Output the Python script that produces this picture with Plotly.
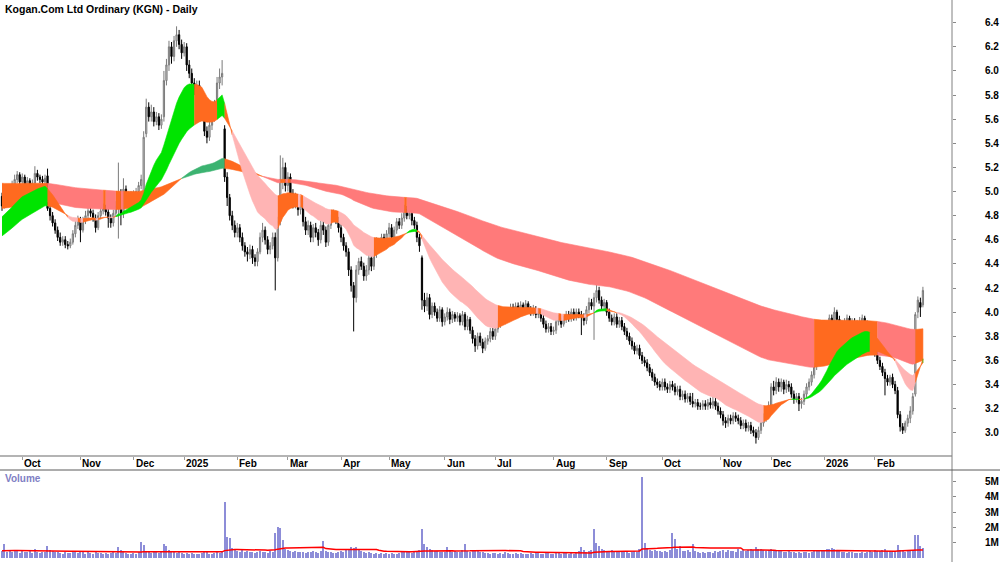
import pandas as pd
import plotly.graph_objects as go

# ---------------- data ----------------
START_DATE = "2024-09-19"
END_DATE = "2026-02-27"
ASX_HOLIDAYS = ["2024-12-25", "2024-12-26", "2025-01-01", "2025-01-27", "2025-04-18",
                "2025-04-21", "2025-04-25", "2025-06-09", "2025-12-25", "2025-12-26",
                "2026-01-01", "2026-01-26"]

closes = [
    4.88, 4.97, 5.02, 5.00, 5.06, 5.10, 5.14, 5.08, 5.12, 5.05,
    5.09, 5.03, 5.07, 5.15, 5.12, 5.10, 5.08, 5.11, 4.86, 4.80,
    4.74, 4.68, 4.62, 4.58, 4.60, 4.56, 4.55, 4.58, 4.65, 4.72,
    4.77, 4.68, 4.76, 4.80, 4.84, 4.82, 4.78, 4.70, 4.80, 4.84,
    4.86, 4.83, 4.78, 4.74, 4.82, 4.88, 4.98, 4.82, 5.02, 4.93,
    4.97, 4.94, 4.98, 5.00, 5.05, 5.10, 5.45, 5.70, 5.62, 5.66,
    5.58, 5.62, 5.55, 5.60, 5.92, 6.05, 6.20, 6.12, 6.25, 6.30,
    6.22, 6.15, 6.20, 6.05, 5.98, 5.90, 5.85, 5.88, 5.80, 5.75,
    5.50, 5.45, 5.55, 5.62, 5.72, 5.90, 5.95, 5.98, 5.12, 4.95,
    4.80, 4.72, 4.66, 4.70, 4.62, 4.55, 4.50, 4.48, 4.52, 4.45,
    4.42, 4.50, 4.62, 4.68, 4.60, 4.52, 4.55, 4.62, 4.45, 4.75,
    5.10, 5.20, 5.05, 5.12, 4.98, 4.90, 4.95, 4.85, 4.92, 4.75,
    4.68, 4.72, 4.62, 4.70, 4.66, 4.60, 4.72, 4.68, 4.58, 4.72,
    4.78, 4.82, 4.76, 4.70, 4.62, 4.55, 4.50, 4.35, 4.22, 4.12,
    4.35, 4.42, 4.38, 4.30, 4.35, 4.45, 4.38, 4.48, 4.58, 4.55,
    4.62, 4.58, 4.65, 4.70, 4.62, 4.68, 4.75, 4.72, 4.78, 4.85,
    4.80, 4.82, 4.76, 4.72, 4.62, 4.55, 4.10, 4.05, 4.12, 3.98,
    4.05, 4.00, 3.95, 4.02, 3.92, 3.96, 4.00, 3.94, 3.98, 3.95,
    3.97, 3.92, 3.98, 3.88, 3.94, 3.85, 3.78, 3.72, 3.80, 3.75,
    3.70, 3.76, 3.78, 3.84, 3.80, 3.86, 3.90, 3.96, 3.93, 4.00,
    3.98, 4.04, 4.02, 4.05, 4.00, 4.06, 4.03, 4.07, 4.02, 4.00,
    4.03, 3.98, 4.00, 3.95, 3.90, 3.86, 3.88, 3.84, 3.85, 3.92,
    3.95, 3.90, 3.94, 3.98, 3.95, 4.00, 3.96, 4.00, 3.98, 3.96,
    3.93, 4.02, 4.08, 4.05, 4.12, 4.18, 4.10, 4.05, 4.08, 4.00,
    3.95, 3.92, 3.96, 3.90, 3.93, 3.88, 3.84, 3.80, 3.76, 3.72,
    3.68, 3.70, 3.64, 3.60, 3.58, 3.54, 3.50, 3.46, 3.42, 3.40,
    3.38, 3.42, 3.38, 3.36, 3.40, 3.38, 3.34, 3.36, 3.30, 3.32,
    3.28, 3.30, 3.26, 3.24, 3.25, 3.22, 3.22, 3.24, 3.22, 3.25,
    3.23, 3.26, 3.22, 3.18, 3.15, 3.10, 3.08, 3.12, 3.10, 3.14,
    3.12, 3.10, 3.06, 3.08, 3.04, 3.06, 3.02, 3.00, 2.96, 3.02,
    3.08, 3.12, 3.18, 3.22, 3.38, 3.35, 3.42, 3.38, 3.42, 3.36,
    3.40, 3.38, 3.32, 3.28, 3.30, 3.24, 3.26, 3.32, 3.38, 3.42,
    3.48, 3.55, 3.60, 3.66, 3.70, 3.78, 3.88, 3.95, 3.92, 4.00,
    3.94, 3.90, 3.88, 3.92, 3.95, 3.88, 3.92, 3.90, 3.86, 3.92,
    3.95, 3.90, 3.84, 3.78, 3.72, 3.66, 3.60, 3.55, 3.50, 3.45,
    3.42, 3.46, 3.40, 3.35, 3.15, 3.05, 3.02, 3.08, 3.12, 3.18,
    3.30, 3.98, 4.10, 4.04, 4.18,
]

opens = [
    4.96, 4.88, 4.97, 5.02, 5.00, 5.06, 5.10, 5.14, 5.08, 5.12,
    5.05, 5.09, 5.03, 5.07, 5.15, 5.12, 5.10, 5.08, 5.13, 4.86,
    4.80, 4.74, 4.68, 4.62, 4.58, 4.60, 4.56, 4.55, 4.58, 4.65,
    4.72, 4.77, 4.68, 4.76, 4.80, 4.84, 4.82, 4.78, 4.70, 4.80,
    4.84, 4.86, 4.83, 4.78, 4.74, 4.82, 4.88, 4.98, 4.82, 5.02,
    4.93, 4.97, 4.94, 4.98, 5.00, 5.05, 4.98, 5.48, 5.70, 5.62,
    5.66, 5.58, 5.62, 5.55, 5.62, 5.92, 6.05, 6.20, 6.12, 6.25,
    6.30, 6.22, 6.15, 6.20, 6.05, 5.98, 5.90, 5.85, 5.88, 5.80,
    5.75, 5.50, 5.45, 5.55, 5.62, 5.72, 5.90, 5.95, 5.52, 5.12,
    4.95, 4.80, 4.72, 4.66, 4.70, 4.62, 4.55, 4.50, 4.48, 4.52,
    4.45, 4.42, 4.50, 4.62, 4.68, 4.60, 4.52, 4.55, 4.62, 4.45,
    4.75, 5.10, 5.20, 5.05, 5.12, 4.98, 4.90, 4.95, 4.85, 4.92,
    4.75, 4.68, 4.72, 4.62, 4.70, 4.66, 4.60, 4.72, 4.68, 4.58,
    4.72, 4.78, 4.82, 4.76, 4.70, 4.62, 4.55, 4.50, 4.35, 4.22,
    4.12, 4.35, 4.42, 4.38, 4.30, 4.35, 4.45, 4.38, 4.48, 4.58,
    4.55, 4.62, 4.58, 4.65, 4.70, 4.62, 4.68, 4.75, 4.72, 4.78,
    4.85, 4.80, 4.82, 4.76, 4.72, 4.62, 4.45, 4.10, 4.05, 4.12,
    3.98, 4.05, 4.00, 3.95, 4.02, 3.92, 3.96, 4.00, 3.94, 3.98,
    3.95, 3.97, 3.92, 3.98, 3.88, 3.94, 3.85, 3.78, 3.72, 3.80,
    3.75, 3.70, 3.76, 3.78, 3.84, 3.80, 3.86, 3.90, 3.96, 3.93,
    4.00, 3.98, 4.04, 4.02, 4.05, 4.00, 4.06, 4.03, 4.07, 4.02,
    4.00, 4.03, 3.98, 4.00, 3.95, 3.90, 3.86, 3.88, 3.84, 3.85,
    3.92, 3.95, 3.90, 3.94, 3.98, 3.95, 4.00, 3.96, 4.00, 3.98,
    3.96, 3.93, 4.02, 4.08, 4.05, 4.12, 4.18, 4.10, 4.05, 4.08,
    4.00, 3.95, 3.92, 3.96, 3.90, 3.93, 3.88, 3.84, 3.80, 3.76,
    3.72, 3.68, 3.70, 3.64, 3.60, 3.58, 3.54, 3.50, 3.46, 3.42,
    3.40, 3.38, 3.42, 3.38, 3.36, 3.40, 3.38, 3.34, 3.36, 3.30,
    3.32, 3.28, 3.30, 3.26, 3.24, 3.25, 3.22, 3.22, 3.24, 3.22,
    3.25, 3.23, 3.26, 3.22, 3.18, 3.15, 3.10, 3.08, 3.12, 3.10,
    3.14, 3.12, 3.10, 3.06, 3.08, 3.04, 3.06, 3.02, 3.00, 2.96,
    3.02, 3.08, 3.12, 3.18, 3.22, 3.38, 3.35, 3.42, 3.38, 3.42,
    3.36, 3.40, 3.38, 3.32, 3.28, 3.30, 3.24, 3.26, 3.32, 3.38,
    3.42, 3.48, 3.55, 3.60, 3.66, 3.70, 3.78, 3.88, 3.95, 3.92,
    4.00, 3.94, 3.90, 3.88, 3.92, 3.95, 3.88, 3.92, 3.90, 3.86,
    3.92, 3.95, 3.90, 3.84, 3.78, 3.72, 3.66, 3.60, 3.55, 3.50,
    3.45, 3.42, 3.46, 3.40, 3.35, 3.15, 3.05, 3.02, 3.08, 3.12,
    3.18, 3.32, 4.00, 4.08, 4.06,
]

highs = [
    4.99, 5.00, 5.06, 5.05, 5.09, 5.14, 5.17, 5.16, 5.15, 5.14,
    5.12, 5.11, 5.10, 5.21, 5.18, 5.14, 5.13, 5.14, 5.19, 4.88,
    4.83, 4.77, 4.71, 4.66, 4.63, 4.63, 4.59, 4.61, 4.68, 4.76,
    4.80, 4.79, 4.79, 4.84, 4.87, 4.87, 4.85, 4.81, 4.83, 4.87,
    4.90, 4.89, 4.86, 4.81, 4.85, 4.92, 5.24, 5.02, 5.11, 5.05,
    5.00, 5.00, 5.01, 5.03, 5.08, 5.14, 5.50, 5.77, 5.74, 5.72,
    5.70, 5.66, 5.65, 5.64, 6.00, 6.10, 6.25, 6.24, 6.29, 6.37,
    6.34, 6.26, 6.24, 6.23, 6.09, 6.02, 5.94, 5.92, 5.92, 5.84,
    5.78, 5.54, 5.58, 5.66, 5.76, 5.95, 6.02, 6.09, 5.55, 5.16,
    4.98, 4.84, 4.76, 4.74, 4.73, 4.66, 4.58, 4.54, 4.56, 4.55,
    4.48, 4.53, 4.66, 4.74, 4.71, 4.63, 4.58, 4.66, 4.66, 4.79,
    5.30, 5.28, 5.24, 5.16, 5.15, 5.02, 4.99, 4.98, 4.96, 4.95,
    4.79, 4.76, 4.75, 4.73, 4.74, 4.69, 4.76, 4.76, 4.71, 4.75,
    4.81, 4.85, 4.84, 4.79, 4.73, 4.65, 4.58, 4.53, 4.38, 4.25,
    4.39, 4.45, 4.46, 4.41, 4.39, 4.48, 4.48, 4.52, 4.62, 4.61,
    4.65, 4.65, 4.68, 4.74, 4.73, 4.71, 4.78, 4.78, 4.82, 4.89,
    4.88, 4.85, 4.84, 4.79, 4.75, 4.65, 4.47, 4.16, 4.16, 4.15,
    4.08, 4.08, 4.03, 4.05, 4.04, 3.99, 4.04, 4.03, 4.01, 4.00,
    4.00, 3.99, 4.01, 4.00, 3.97, 3.96, 3.88, 3.81, 3.83, 3.83,
    3.78, 3.79, 3.81, 3.87, 3.87, 3.89, 3.93, 3.99, 3.99, 4.03,
    4.03, 4.07, 4.07, 4.08, 4.08, 4.09, 4.08, 4.10, 4.09, 4.05,
    4.06, 4.05, 4.03, 4.02, 3.98, 3.93, 3.91, 3.91, 3.88, 3.95,
    3.98, 3.98, 3.97, 4.01, 4.01, 4.03, 4.03, 4.03, 4.03, 4.01,
    3.99, 4.05, 4.12, 4.11, 4.16, 4.29, 4.21, 4.13, 4.11, 4.10,
    4.03, 3.98, 3.99, 3.99, 3.96, 3.96, 3.91, 3.87, 3.83, 3.79,
    3.75, 3.73, 3.73, 3.67, 3.63, 3.61, 3.57, 3.53, 3.49, 3.45,
    3.43, 3.45, 3.45, 3.41, 3.43, 3.43, 3.41, 3.39, 3.39, 3.35,
    3.35, 3.33, 3.33, 3.33, 3.28, 3.28, 3.25, 3.27, 3.27, 3.28,
    3.29, 3.33, 3.29, 3.25, 3.21, 3.18, 3.13, 3.15, 3.15, 3.17,
    3.17, 3.15, 3.13, 3.11, 3.11, 3.09, 3.09, 3.05, 3.03, 3.05,
    3.11, 3.16, 3.21, 3.26, 3.41, 3.43, 3.46, 3.45, 3.45, 3.44,
    3.44, 3.43, 3.41, 3.35, 3.33, 3.33, 3.29, 3.35, 3.41, 3.45,
    3.51, 3.58, 3.63, 3.69, 3.74, 3.82, 3.91, 3.98, 3.98, 4.04,
    4.02, 3.97, 3.93, 3.95, 3.98, 3.97, 3.95, 3.95, 3.93, 3.96,
    3.98, 3.97, 3.93, 3.87, 3.81, 3.75, 3.69, 3.63, 3.58, 3.53,
    3.48, 3.48, 3.49, 3.43, 3.38, 3.18, 3.08, 3.10, 3.15, 3.22,
    3.33, 4.00, 4.13, 4.12, 4.21,
]

lows = [
    4.84, 4.86, 4.94, 4.97, 4.98, 5.03, 5.07, 5.05, 5.05, 5.02,
    5.02, 5.00, 5.01, 5.05, 5.09, 5.07, 5.05, 5.06, 4.84, 4.76,
    4.71, 4.65, 4.59, 4.55, 4.55, 4.53, 4.52, 4.53, 4.56, 4.62,
    4.69, 4.58, 4.66, 4.73, 4.77, 4.79, 4.75, 4.66, 4.68, 4.77,
    4.81, 4.80, 4.70, 4.70, 4.71, 4.79, 4.61, 4.72, 4.78, 4.90,
    4.90, 4.91, 4.91, 4.95, 4.97, 5.02, 4.94, 5.45, 5.58, 5.58,
    5.54, 5.55, 5.51, 5.52, 5.58, 5.88, 6.00, 6.06, 6.08, 6.20,
    6.18, 6.10, 6.12, 6.00, 5.94, 5.86, 5.80, 5.81, 5.76, 5.70,
    5.46, 5.40, 5.42, 5.51, 5.58, 5.68, 5.85, 5.88, 5.08, 4.88,
    4.76, 4.68, 4.62, 4.62, 4.58, 4.51, 4.46, 4.42, 4.44, 4.40,
    4.38, 4.38, 4.48, 4.58, 4.56, 4.48, 4.48, 4.52, 4.18, 4.42,
    4.72, 5.02, 5.00, 5.00, 4.94, 4.86, 4.86, 4.80, 4.81, 4.71,
    4.64, 4.64, 4.58, 4.58, 4.62, 4.55, 4.57, 4.64, 4.54, 4.55,
    4.69, 4.75, 4.73, 4.66, 4.58, 4.51, 4.46, 4.30, 4.17, 3.84,
    4.08, 4.31, 4.35, 4.26, 4.26, 4.31, 4.34, 4.35, 4.45, 4.51,
    4.52, 4.55, 4.55, 4.62, 4.59, 4.59, 4.65, 4.69, 4.69, 4.75,
    4.77, 4.77, 4.72, 4.69, 4.58, 4.50, 4.02, 4.00, 4.01, 3.94,
    3.95, 3.97, 3.92, 3.92, 3.88, 3.89, 3.93, 3.90, 3.91, 3.92,
    3.92, 3.89, 3.89, 3.85, 3.85, 3.82, 3.74, 3.67, 3.69, 3.72,
    3.66, 3.68, 3.73, 3.75, 3.77, 3.77, 3.83, 3.87, 3.90, 3.90,
    3.95, 3.95, 3.99, 3.99, 3.97, 3.97, 4.00, 4.00, 3.99, 3.97,
    3.97, 3.95, 3.95, 3.92, 3.87, 3.83, 3.83, 3.81, 3.81, 3.82,
    3.89, 3.87, 3.88, 3.91, 3.92, 3.92, 3.93, 3.93, 3.95, 3.81,
    3.89, 3.90, 3.99, 4.02, 3.77, 4.08, 4.07, 4.01, 4.02, 3.97,
    3.92, 3.89, 3.89, 3.87, 3.87, 3.85, 3.81, 3.77, 3.73, 3.69,
    3.65, 3.65, 3.61, 3.57, 3.55, 3.51, 3.47, 3.43, 3.39, 3.37,
    3.35, 3.35, 3.35, 3.33, 3.33, 3.35, 3.31, 3.31, 3.27, 3.27,
    3.25, 3.25, 3.23, 3.21, 3.21, 3.19, 3.19, 3.19, 3.19, 3.19,
    3.20, 3.20, 3.19, 3.15, 3.12, 3.06, 3.04, 3.05, 3.07, 3.07,
    3.09, 3.07, 3.03, 3.03, 3.01, 3.01, 2.99, 2.97, 2.91, 2.94,
    2.99, 3.05, 3.09, 3.15, 3.20, 3.31, 3.32, 3.34, 3.34, 3.32,
    3.33, 3.34, 3.29, 3.24, 3.25, 3.18, 3.20, 3.23, 3.29, 3.35,
    3.39, 3.45, 3.52, 3.57, 3.62, 3.66, 3.74, 3.84, 3.88, 3.89,
    3.91, 3.86, 3.84, 3.85, 3.89, 3.84, 3.85, 3.87, 3.82, 3.83,
    3.89, 3.87, 3.81, 3.75, 3.69, 3.63, 3.57, 3.52, 3.47, 3.31,
    3.39, 3.39, 3.37, 3.32, 3.12, 3.01, 2.99, 3.00, 3.05, 3.08,
    3.15, 3.30, 3.95, 3.96, 4.04,
]

volumes_m = [
    0.45, 0.93, 0.40, 0.52, 0.38, 0.46, 0.50, 0.35, 0.55, 0.42,
    0.38, 0.48, 0.33, 0.58, 0.40, 0.36, 0.44, 0.39, 0.82, 0.55,
    0.47, 0.42, 0.38, 0.35, 0.30, 0.41, 0.33, 0.37, 0.45, 0.40,
    0.36, 0.50, 0.42, 0.31, 0.38, 0.34, 0.29, 0.40, 0.35, 0.32,
    0.28, 0.36, 0.30, 0.33, 0.41, 0.37, 0.74, 0.52, 0.48, 0.35,
    0.30, 0.26, 0.33, 0.29, 0.38, 1.08, 0.87, 0.45, 0.40, 0.36,
    0.42, 0.38, 0.33, 0.47, 0.95, 0.80, 0.52, 0.44, 0.39, 0.35,
    0.41, 0.36, 0.30, 0.34, 0.28, 0.32, 0.25, 0.30, 0.27, 0.33,
    0.45, 0.38, 0.31, 0.29, 0.35, 0.42, 0.37, 0.50, 3.69, 1.39,
    1.30, 0.65, 0.52, 0.48, 0.44, 0.55, 0.40, 0.47, 0.38, 0.42,
    0.36, 0.41, 0.50, 0.44, 0.39, 0.35, 0.45, 0.40, 1.65, 2.02,
    1.98, 1.20, 0.62, 0.55, 0.48, 0.42, 0.46, 0.38, 0.43, 0.40,
    0.35, 0.44, 0.39, 0.47, 0.41, 0.36, 0.50, 1.13, 0.45, 0.38,
    0.42, 0.36, 0.33, 0.40, 0.46, 0.38, 0.52, 0.60, 0.74, 0.68,
    0.74, 0.55, 0.48, 0.42, 0.37, 0.40, 0.34, 0.31, 0.36, 0.29,
    0.33, 0.30, 0.35, 0.28, 0.32, 0.26, 0.31, 0.36, 0.40, 0.45,
    0.38, 0.42, 0.35, 0.40, 0.48, 0.55, 1.90, 0.95, 0.75, 0.60,
    0.52, 0.45, 0.48, 0.40, 0.44, 0.38, 0.75, 0.47, 0.42, 0.50,
    0.44, 0.39, 0.52, 0.95, 0.48, 0.42, 0.55, 0.50, 0.46, 0.40,
    0.43, 0.37, 0.34, 0.30, 0.36, 0.33, 0.28, 0.35, 0.31, 0.38,
    0.34, 0.30, 0.27, 0.32, 0.29, 0.35, 0.31, 0.26, 0.30, 0.33,
    0.28, 0.32, 0.36, 0.30, 0.27, 0.34, 0.38, 0.31, 0.29, 0.35,
    0.32, 0.28, 0.33, 0.37, 0.30, 0.36, 0.29, 0.42, 0.50, 0.74,
    0.55, 0.40, 0.46, 0.52, 1.89, 0.97, 0.80, 0.62, 0.55, 0.48,
    0.45, 0.52, 0.40, 0.47, 0.43, 0.38, 0.45, 0.41, 0.36, 0.44,
    0.50, 0.42, 0.60, 5.30, 0.97, 0.66, 0.55, 0.48, 0.52, 0.45,
    0.50, 0.44, 0.47, 0.41, 0.55, 1.67, 1.26, 0.60, 0.82, 0.50,
    0.46, 0.52, 0.43, 0.93, 0.48, 0.40, 0.37, 0.44, 0.35, 0.39,
    0.42, 0.36, 0.45, 0.40, 0.48, 0.52, 0.44, 0.55, 0.47, 0.50,
    0.43, 0.58, 0.49, 0.52, 0.46, 0.55, 0.60, 0.52, 0.75, 0.58,
    0.62, 0.55, 0.48, 0.52, 0.58, 0.50, 0.45, 0.53, 0.47, 0.42,
    0.40, 0.46, 0.38, 0.43, 0.36, 0.41, 0.35, 0.39, 0.44, 0.37,
    0.42, 0.48, 0.52, 0.45, 0.55, 0.50, 0.58, 0.62, 0.66, 0.60,
    0.52, 0.47, 0.44, 0.40, 0.36, 0.42, 0.38, 0.33, 0.37, 0.35,
    0.40, 0.36, 0.44, 0.48, 0.42, 0.55, 0.50, 0.46, 0.52, 0.58,
    0.45, 0.50, 0.43, 0.48, 0.86, 0.55, 0.47, 0.42, 0.50, 0.46,
    0.52, 1.52, 1.52, 0.80, 0.70,
]

# moving-average ribbon settings and their values just before the first bar
SHORT_PERIODS = (18, 42)
SHORT_SEEDS = (4.78, 4.62)
LONG_PERIODS = (120, 250)
LONG_SEEDS = (4.86, 5.07)
VOL_MA_PERIOD = 40
VOL_MA_SEED = 0.50

price_ticks = [3.0, 3.2, 3.4, 3.6, 3.8, 4.0, 4.2, 4.4, 4.6, 4.8, 5.0, 5.2, 5.4, 5.6, 5.8, 6.0, 6.2, 6.4]
vol_ticks = [1, 2, 3, 4, 5]
vol_tick_text = ["1M", "2M", "3M", "4M", "5M"]

# ---------------- derived ----------------
n = min(len(closes), len(opens), len(highs), len(lows), len(volumes_m))
dates = pd.bdate_range(START_DATE, END_DATE)
dates = dates[~dates.isin(pd.to_datetime(ASX_HOLIDAYS))][:n]
idx = list(range(n))

month_idx, month_lab = [], []
for i in range(1, len(dates)):
    if dates[i].month != dates[i - 1].month:
        month_idx.append(i)
        month_lab.append(str(dates[i].year) if dates[i].month == 1 else dates[i].strftime("%b"))


def ema(values, period, seed):
    a = 2.0 / (period + 1)
    out, prev = [], seed
    for v in values:
        prev = prev + a * (v - prev)
        out.append(prev)
    return out


def classify(fast, slow):
    cls = []
    for i in range(len(fast)):
        j = max(i, 1)
        uf = fast[j] > fast[j - 1]
        us = slow[j] > slow[j - 1]
        if fast[i] > slow[i] and uf and us:
            cls.append("up")
        elif fast[i] < slow[i] and (not uf) and (not us):
            cls.append("down")
        else:
            cls.append("mixed")
    return cls


def ribbon(fast, slow, colors):
    cls = classify(fast, slow)
    traces = []
    start = 0
    m = len(fast)
    for i in range(1, m + 1):
        if i == m or cls[i] != cls[start]:
            end = min(i, m - 1)
            xs = list(range(start, end + 1))
            top = [fast[k] for k in xs]
            bot = [slow[k] for k in xs]
            col = colors[cls[start]]
            traces.append(go.Scatter(
                x=xs + xs[::-1], y=top + bot[::-1], mode="lines", fill="toself",
                fillcolor=col, line=dict(color=col, width=0.6),
                hoverinfo="skip", showlegend=False, xaxis="x", yaxis="y"))
            start = i
    return traces


s_fast = ema(closes[:n], SHORT_PERIODS[0], SHORT_SEEDS[0])
s_slow = ema(closes[:n], SHORT_PERIODS[1], SHORT_SEEDS[1])
l_fast = ema(closes[:n], LONG_PERIODS[0], LONG_SEEDS[0])
l_slow = ema(closes[:n], LONG_PERIODS[1], LONG_SEEDS[1])

vol_ma = []
for i in range(n):
    lo = i - VOL_MA_PERIOD + 1
    window = volumes_m[max(lo, 0):i + 1]
    missing = VOL_MA_PERIOD - len(window)
    vol_ma.append((sum(window) + missing * VOL_MA_SEED) / VOL_MA_PERIOD)

FONT = "Liberation Sans, Arial, sans-serif"
SHORT_COLORS = {"up": "#00e400", "mixed": "#ff6a1f", "down": "#ffb4b4"}
LONG_COLORS = {"up": "#3cb371", "mixed": "#ff6a1f", "down": "#ff7a7a"}

fig = go.Figure()
for t in ribbon(l_fast, l_slow, LONG_COLORS):
    fig.add_trace(t)
for t in ribbon(s_fast, s_slow, SHORT_COLORS):
    fig.add_trace(t)

fig.add_trace(go.Candlestick(
    x=idx, open=opens[:n], high=highs[:n], low=lows[:n], close=closes[:n],
    increasing=dict(line=dict(color="#7a7a7a", width=1), fillcolor="#d4d4d4"),
    decreasing=dict(line=dict(color="#000000", width=1), fillcolor="#000000"),
    whiskerwidth=0, showlegend=False, hoverinfo="skip", xaxis="x", yaxis="y"))

fig.add_trace(go.Bar(x=idx, y=volumes_m[:n], width=0.45, marker=dict(color="#8d8dd8", line=dict(width=0)),
                     showlegend=False, hoverinfo="skip", xaxis="x2", yaxis="y2"))
fig.add_trace(go.Scatter(x=idx, y=vol_ma, mode="lines", line=dict(color="#ff0000", width=1.5),
                         showlegend=False, hoverinfo="skip", xaxis="x2", yaxis="y2"))

W, H = 1000, 562
AX_X = 952 / W
px_per_bar = 2.53
x0 = -2 / px_per_bar
x1 = x0 + 952 / px_per_bar
price_bottom_px, price_top_px = 455, 0
vol_top_px = 470


def p_at(ypx):
    return 6.4 - (ypx - 22.7) / 120.6


def v_at(ypx):
    return (558.3 - ypx) / 15.33


fig.update_layout(
    width=W, height=H, margin=dict(l=0, r=0, t=0, b=0),
    paper_bgcolor="white", plot_bgcolor="white",
    font=dict(family=FONT, size=10, color="#000000"),
    showlegend=False, bargap=0,
    xaxis=dict(domain=[0, AX_X], range=[x0, x1], anchor="y", showgrid=False, zeroline=False,
               tickmode="array", tickvals=month_idx, ticks="outside", ticklen=3, tickcolor="#9a9a9a",
               showticklabels=False, showline=True, linecolor="#b4b4b4", linewidth=2,
               rangeslider=dict(visible=False)),
    yaxis=dict(domain=[(H - price_bottom_px) / H, 1], range=[p_at(price_bottom_px), p_at(price_top_px)],
               side="right", anchor="x", showgrid=False, zeroline=False,
               tickmode="array", tickvals=price_ticks, ticktext=[f"{v:.1f}" for v in price_ticks],
               ticks="outside", ticklen=3, tickcolor="#888888", showline=False,
               tickfont=dict(family=FONT, size=10, color="#000000", weight="bold"),
               ticklabelstandoff=27),
    xaxis2=dict(domain=[0, AX_X], range=[x0, x1], anchor="y2", showgrid=False, zeroline=False,
                showticklabels=False, ticks=""),
    yaxis2=dict(domain=[0, (H - vol_top_px) / H], range=[v_at(H), v_at(vol_top_px)], side="right", anchor="x2",
                showgrid=False, zeroline=False, tickmode="array", tickvals=vol_ticks, ticktext=vol_tick_text,
                ticks="outside", ticklen=3, tickcolor="#888888",
                tickfont=dict(family=FONT, size=10, color="#000000", weight="bold"),
                ticklabelstandoff=27),
)

shapes = [
    dict(type="line", xref="paper", yref="paper", x0=AX_X, x1=AX_X, y0=0, y1=1,
         line=dict(color="#808080", width=1)),
    dict(type="line", xref="paper", yref="paper", x0=0, x1=1, y0=(H - vol_top_px) / H, y1=(H - vol_top_px) / H,
         line=dict(color="#5a5a5a", width=1)),
]
fig.update_layout(shapes=shapes)

annotations = [
    dict(xref="paper", yref="paper", x=3 / W, y=1 - 9 / H, xanchor="left", yanchor="middle",
         text="Kogan.Com Ltd Ordinary (KGN) - Daily", showarrow=False,
         font=dict(family=FONT, size=10.5, color="#000000", weight="bold")),
    dict(xref="paper", yref="paper", x=3 / W, y=(H - 478) / H, xanchor="left", yanchor="middle",
         text="Volume", showarrow=False, font=dict(family=FONT, size=10, color="#8080c4", weight="bold")),
]
for mi, ml in zip(month_idx, month_lab):
    annotations.append(dict(xref="x", yref="paper", x=mi, y=(H - 463) / H, xanchor="left", yanchor="middle",
                            xshift=0, text=ml, showarrow=False,
                            font=dict(family=FONT, size=10, color="#000000", weight="bold")))
fig.update_layout(annotations=annotations)

fig.write_html("out.html")
